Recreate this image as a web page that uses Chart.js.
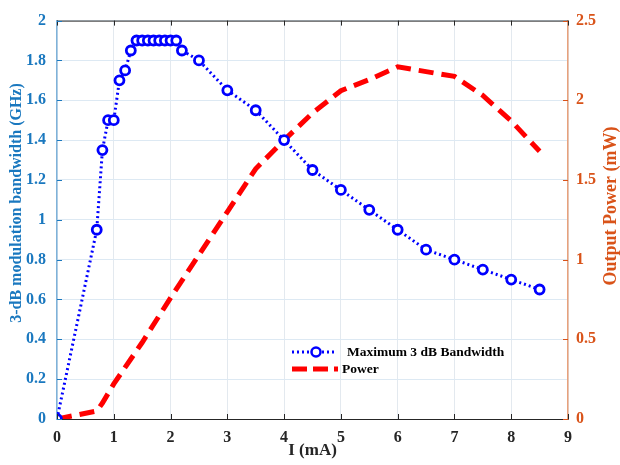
<!DOCTYPE html>
<html>
<head>
<meta charset="utf-8">
<script src="https://cdn.jsdelivr.net/npm/chart.js@4/dist/chart.umd.min.js"></script>
<style>
  html, body { margin: 0; padding: 0; background: #fff; }
  #wrap { width: 620px; height: 465px; }
</style>
</head>
<body>
<div id="wrap"><canvas id="chart"></canvas></div>
<script>
// current (mA) for the bandwidth series
const bwCurrent = [0, 0.7, 0.8, 0.9, 1.0, 1.1, 1.2, 1.3, 1.4, 1.5, 1.6, 1.7, 1.8, 1.9, 2.0, 2.1,
                   2.2, 2.5, 3, 3.5, 4, 4.5, 5, 5.5, 6, 6.5, 7, 7.5, 8, 8.5];
const bandwidth = [0, 0.95, 1.35, 1.5, 1.5, 1.7, 1.75, 1.85, 1.9, 1.9, 1.9, 1.9, 1.9, 1.9, 1.9, 1.9,
                   1.85, 1.8, 1.65, 1.55, 1.4, 1.25, 1.15, 1.05, 0.95, 0.85, 0.8, 0.75, 0.7, 0.65];

// current (mA) for the output power series
const powCurrent = [0, 0.7, 0.8, 1.0, 1.5, 2, 2.5, 3, 3.5, 4, 4.5, 5, 5.5, 6, 6.5, 7, 7.5, 8, 8.5];
const power = [0, 0.05, 0.1, 0.22, 0.48, 0.76, 1.03, 1.30, 1.57, 1.75, 1.92, 2.06, 2.13, 2.21, 2.18, 2.15, 2.03, 1.87, 1.68];

const xTicks = [0, 1, 2, 3, 4, 5, 6, 7, 8, 9];

const BLUE = '#0000FF';
const LEFT_COLOR = '#1a78bf';
const RIGHT_COLOR = '#D95319';
const FONT = '"Liberation Serif", "Times New Roman", serif';

const fmt = v => String(+Number(v).toFixed(2));

// titles, inward ticks, box top and the in-plot legend
const decor = {
    id: 'decor',
    afterDraw(chart) {
        const c = chart.ctx;
        const a = chart.chartArea;
        const sx = chart.scales.x, sy = chart.scales.y, sy1 = chart.scales.y1;
        c.save();

        // top border
        c.strokeStyle = '#262626';
        c.lineWidth = 1;
        c.beginPath();
        c.moveTo(a.left, a.top + 0.5);
        c.lineTo(a.right, a.top + 0.5);
        c.stroke();

        // inward x ticks (top and bottom)
        xTicks.forEach(t => {
            const px = Math.round(sx.getPixelForValue(t)) + 0.5;
            c.beginPath();
            c.moveTo(px, a.bottom); c.lineTo(px, a.bottom - 5);
            c.moveTo(px, a.top); c.lineTo(px, a.top + 5);
            c.stroke();
        });
        // inward left ticks
        c.strokeStyle = LEFT_COLOR;
        sy.ticks.forEach(t => {
            const py = Math.round(sy.getPixelForValue(t.value)) + 0.5;
            c.beginPath(); c.moveTo(a.left, py); c.lineTo(a.left + 5, py); c.stroke();
        });
        // inward right ticks
        c.strokeStyle = RIGHT_COLOR;
        sy1.ticks.forEach(t => {
            const py = Math.round(sy1.getPixelForValue(t.value)) + 0.5;
            c.beginPath(); c.moveTo(a.right, py); c.lineTo(a.right - 5, py); c.stroke();
        });

        // axis titles
        c.textAlign = 'center';
        c.textBaseline = 'middle';
        c.fillStyle = '#262626';
        c.font = 'bold 17px ' + FONT;
        c.fillText('I (mA)', (a.left + a.right) / 2, 451);

        c.save();
        c.translate(17, 203);
        c.rotate(-Math.PI / 2);
        c.fillStyle = LEFT_COLOR;
        c.font = 'bold 16px ' + FONT;
        c.fillText('3-dB modulation bandwidth (GHz)', 0, 0);
        c.restore();

        c.save();
        c.translate(611, 206);
        c.rotate(-Math.PI / 2);
        c.fillStyle = RIGHT_COLOR;
        c.font = 'bold 18px ' + FONT;
        c.fillText('Output Power (mW)', 0, 0);
        c.restore();

        // legend
        c.textAlign = 'left';
        c.fillStyle = '#000';
        c.font = 'bold 13.5px ' + FONT;
        c.strokeStyle = BLUE;
        c.lineWidth = 3;
        c.setLineDash([2, 3]);
        c.beginPath(); c.moveTo(292, 352); c.lineTo(337, 352); c.stroke();
        c.setLineDash([]);
        c.lineWidth = 2.5;
        c.fillStyle = '#fff';
        c.beginPath(); c.arc(316, 352, 4.5, 0, Math.PI * 2); c.fill(); c.stroke();
        c.fillStyle = '#000';
        c.fillText('Maximum 3 dB Bandwidth', 347, 353);

        c.strokeStyle = '#FF0000';
        c.lineWidth = 5;
        c.setLineDash([15, 6]);
        c.beginPath(); c.moveTo(292, 369); c.lineTo(338, 369); c.stroke();
        c.setLineDash([]);
        c.fillText('Power', 342, 370);

        c.restore();
    }
};

const ctx = document.getElementById('chart').getContext('2d');
new Chart(ctx, {
    type: 'scatter',
    data: {
        datasets: [
            {
                label: 'Maximum 3 dB Bandwidth',
                data: bwCurrent.map((x, i) => ({ x, y: bandwidth[i] })),
                yAxisID: 'y',
                showLine: true,
                borderColor: BLUE,
                borderWidth: 3,
                borderDash: [2, 3],
                pointRadius: 4.5,
                pointBorderWidth: 2.8,
                pointBorderColor: BLUE,
                pointBackgroundColor: '#fff',
                order: 1
            },
            {
                label: 'Power',
                data: powCurrent.map((x, i) => ({ x, y: power[i] })),
                yAxisID: 'y1',
                showLine: true,
                borderColor: '#FF0000',
                borderWidth: 5,
                borderDash: [15, 8],
                pointRadius: 0,
                order: 2
            }
        ]
    },
    options: {
        responsive: true,
        maintainAspectRatio: false,
        animation: false,
        layout: { padding: { top: 16, left: 0, right: 0, bottom: 0 } },
        plugins: {
            legend: { display: false },
            tooltip: { enabled: false }
        },
        scales: {
            x: {
                type: 'linear',
                min: 0,
                max: 9,
                afterBuildTicks: s => { s.ticks = xTicks.map(v => ({ value: v })); },
                afterFit: s => { s.height = 46; },
                grid: { color: '#e3e9ef', drawTicks: false },
                border: { color: '#262626', width: 1 },
                ticks: {
                    padding: 9,
                    color: '#262626',
                    font: { family: FONT, size: 16, weight: 'bold' },
                    callback: fmt
                }
            },
            y: {
                position: 'left',
                min: 0,
                max: 2,
                afterFit: s => { s.width = 57; },
                grid: { color: '#dde9f3', drawTicks: false },
                border: { color: '#7fb2d9', width: 1.5 },
                ticks: {
                    stepSize: 0.2,
                    padding: 11,
                    color: LEFT_COLOR,
                    font: { family: FONT, size: 16, weight: 'bold' },
                    callback: fmt
                }
            },
            y1: {
                position: 'right',
                min: 0,
                max: 2.5,
                afterFit: s => { s.width = 52; },
                grid: { drawOnChartArea: false, drawTicks: false },
                border: { color: '#e8a17c', width: 1.5 },
                ticks: {
                    stepSize: 0.5,
                    padding: 8,
                    color: RIGHT_COLOR,
                    font: { family: FONT, size: 16, weight: 'bold' },
                    callback: fmt
                }
            }
        }
    },
    plugins: [decor]
});
</script>
</body>
</html>
